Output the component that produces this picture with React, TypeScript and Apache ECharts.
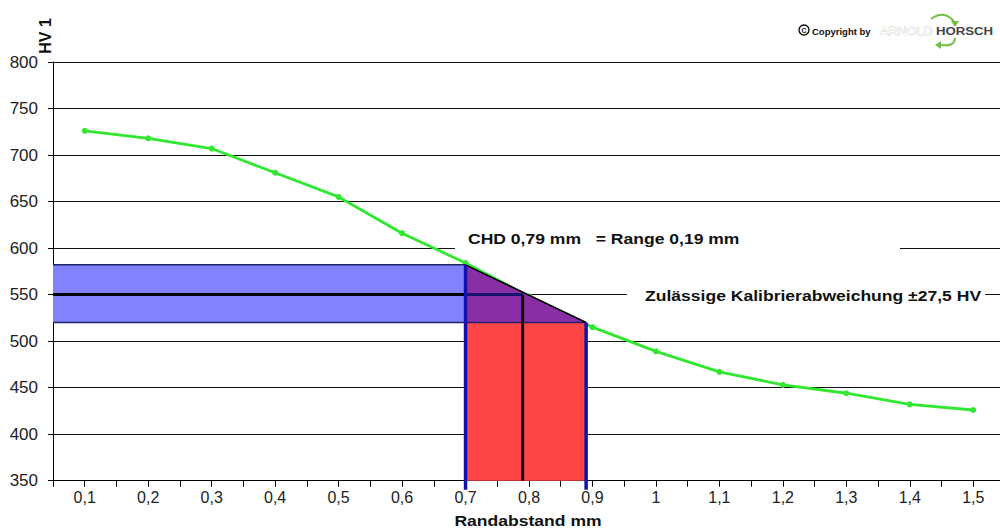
import React, { useEffect, useRef } from "react";
import * as echarts from "echarts";

// Measured curve: hardness HV 1 against distance from edge (mm)
const distances = [0.1, 0.2, 0.3, 0.4, 0.5, 0.6, 0.7, 0.8, 0.9, 1.0, 1.1, 1.2, 1.3, 1.4, 1.5];
const hardness = [726, 718, 707, 681, 655, 616, 584, 548, 515, 489, 467, 453, 444, 432, 426];

// Axis ranges
const xRange = [0.05, 1.55];
const yRange = [350, 800];
const yTickStep = 50;
const xTickStep = 0.05;

// Evaluation overlay
const chdValue = [0.79];            // CHD position (mm)
const rangeBounds = [0.7, 0.89];    // range limits (mm)
const targetHV = [550];             // limit hardness
const bandBounds = [520, 582];      // tolerance band lower / upper (HV)

const texts = {
  yTitle: "HV 1",
  xTitle: "Randabstand mm",
  chd: "CHD 0,79 mm   = Range 0,19 mm",
  tol: "Zulässige Kalibrierabweichung ±27,5 HV",
};

const FONT = "'Liberation Sans', Arial, sans-serif";
const STRETCH = 1.17;

export default function App() {
  const ref = useRef<HTMLDivElement>(null);

  useEffect(() => {
    if (!ref.current) return;
    const chart = echarts.init(ref.current, null, { renderer: "svg" });

    const fmtX = (v: number) => {
      const k = Math.round(v * 100);
      if (k % 10 !== 0) return "";
      if (k % 100 === 0) return String(k / 100);
      return (k / 100).toFixed(1).replace(".", ",");
    };

    const renderOverlay = (params: any, api: any) => {
      const x0 = xRange[0];
      const [r1, r2] = rangeBounds;
      const chd = chdValue[0];
      const t = targetHV[0];
      const [bLow, bHigh] = bandBounds;
      const c = (x: number, y: number) => api.coord([x, y]);
      const pAxisL = c(x0, bHigh);
      const pR1Top = c(r1, bHigh);
      const pR1Low = c(r1, bLow);
      const pR2Low = c(r2, bLow);
      const pAxisLow = c(x0, bLow);
      const pR1Base = c(r1, yRange[0]);
      const pR2Base = c(r2, yRange[0]);
      const pT0 = c(x0, t);
      const pTR1 = c(r1, t);
      const pTChd = c(chd, t);
      const pChdBase = c(chd, yRange[0]);
      const ext = 9;
      return {
        type: "group",
        children: [
          {
            type: "rect",
            shape: { x: pAxisL[0], y: pAxisL[1], width: pR1Top[0] - pAxisL[0], height: pAxisLow[1] - pAxisL[1] },
            style: { fill: "#8282fc" },
          },
          {
            type: "rect",
            shape: { x: pR1Low[0], y: pR1Low[1], width: pR2Low[0] - pR1Low[0], height: pR1Base[1] - pR1Low[1] },
            style: { fill: "#ff4646" },
          },
          {
            type: "polygon",
            shape: { points: [pR1Top, pR1Low, pR2Low] },
            style: { fill: "#8a2ea6" },
          },
          {
            type: "line",
            shape: { x1: pAxisL[0], y1: pAxisL[1], x2: pR1Top[0], y2: pR1Top[1] },
            style: { stroke: "#22226a", lineWidth: 1.5 },
          },
          {
            type: "line",
            shape: { x1: pAxisLow[0], y1: pAxisLow[1], x2: pR2Low[0], y2: pR2Low[1] },
            style: { stroke: "#22226a", lineWidth: 1.5 },
          },
          {
            type: "line",
            shape: { x1: pT0[0], y1: pT0[1], x2: pTR1[0], y2: pTR1[1] },
            style: { stroke: "#000", lineWidth: 3 },
          },
          {
            type: "line",
            shape: { x1: pTR1[0], y1: pTR1[1], x2: pTChd[0], y2: pTChd[1] },
            style: { stroke: "#14146e", lineWidth: 3 },
          },
          {
            type: "line",
            shape: { x1: pTChd[0], y1: pTChd[1], x2: pChdBase[0], y2: pChdBase[1] },
            style: { stroke: "#140808", lineWidth: 3 },
          },
          {
            type: "line",
            shape: { x1: pR1Top[0], y1: pR1Top[1], x2: pR2Low[0], y2: pR2Low[1] },
            style: { stroke: "#000", lineWidth: 1.5 },
          },
          {
            type: "line",
            shape: { x1: pR1Top[0], y1: pR1Top[1], x2: pR1Base[0], y2: pR1Base[1] + ext },
            style: { stroke: "#1212aa", lineWidth: 3.5 },
          },
          {
            type: "line",
            shape: { x1: pR2Low[0], y1: pR2Low[1], x2: pR2Base[0], y2: pR2Base[1] + ext },
            style: { stroke: "#1212aa", lineWidth: 3.5 },
          },
        ],
      };
    };

    const green = "#30e830";
    const arrowGreen = "#72c043";

    chart.setOption({
      animation: false,
      backgroundColor: "#ffffff",
      textStyle: { fontFamily: FONT },
      grid: { left: 53, top: 62, width: 952, height: 418.7, containLabel: false, outerBoundsMode: "none" },
      xAxis: {
        type: "value",
        min: xRange[0],
        max: xRange[1],
        interval: xTickStep,
        axisLine: { show: true, lineStyle: { color: "#000", width: 1 } },
        axisTick: { show: true, length: 6, lineStyle: { color: "#000", width: 1 } },
        axisLabel: { formatter: fmtX, fontSize: 16, color: "#222", margin: 9, fontFamily: FONT, showMinLabel: true, showMaxLabel: true },
        splitLine: { show: false },
      },
      yAxis: {
        type: "value",
        min: yRange[0],
        max: yRange[1],
        interval: yTickStep,
        axisLine: { show: true, lineStyle: { color: "#000", width: 1 } },
        axisTick: { show: true, length: 5, lineStyle: { color: "#000", width: 1 } },
        axisLabel: { fontSize: 17, color: "#222", margin: 15, fontFamily: FONT },
        splitLine: { show: true, lineStyle: { color: "#111", width: 1 } },
      },
      series: [
        {
          type: "line",
          data: distances.map((d, i) => [d, hardness[i]]),
          symbol: "circle",
          symbolSize: 6,
          itemStyle: { color: green },
          lineStyle: { color: green, width: 2.8 },
          z: 2,
          silent: true,
        },
        {
          type: "custom",
          data: [[rangeBounds[0], bandBounds[0]]],
          renderItem: renderOverlay,
          clip: false,
          z: 3,
          silent: true,
        },
      ],
      graphic: [
        {
          type: "text",
          x: 45,
          y: 36,
          rotation: Math.PI / 2,
          style: { text: texts.yTitle, font: `bold 16px ${FONT}`, fill: "#111", align: "center", verticalAlign: "middle" },
        },
        {
          type: "text",
          x: 528,
          y: 520,
          scaleX: STRETCH,
          style: { text: texts.xTitle, font: `bold 15px ${FONT}`, fill: "#111", align: "center", verticalAlign: "middle" },
        },
        {
          type: "rect",
          shape: { x: 455, y: 228, width: 445, height: 24 },
          style: { fill: "#fff" },
          z: 10,
        },
        {
          type: "text",
          x: 468,
          y: 238,
          scaleX: STRETCH,
          style: { text: texts.chd, font: `bold 15px ${FONT}`, fill: "#111", verticalAlign: "middle" },
          z: 11,
        },
        {
          type: "rect",
          shape: { x: 627, y: 284, width: 358, height: 22 },
          style: { fill: "#fff" },
          z: 10,
        },
        {
          type: "text",
          x: 645,
          y: 295,
          scaleX: STRETCH,
          style: { text: texts.tol, font: `bold 15px ${FONT}`, fill: "#111", verticalAlign: "middle" },
          z: 11,
        },
        // copyright logo
        {
          type: "circle",
          shape: { cx: 804, cy: 30, r: 5 },
          style: { fill: "none", stroke: "#111", lineWidth: 1.4 },
        },
        {
          type: "text",
          x: 804,
          y: 30.5,
          style: { text: "C", font: `bold 7px ${FONT}`, fill: "#111", align: "center", verticalAlign: "middle" },
        },
        {
          type: "text",
          x: 812,
          y: 31,
          style: { text: "Copyright by", font: `bold 9.5px ${FONT}`, fill: "#111", verticalAlign: "middle" },
        },
        {
          type: "text",
          x: 880,
          y: 31,
          scaleX: 1.15,
          style: { text: "ARNOLD", font: `11px ${FONT}`, fill: "#ffffff", stroke: "#b4b4b4", lineWidth: 0.5, verticalAlign: "middle" },
        },
        {
          type: "text",
          x: 936,
          y: 31,
          scaleX: 1.2,
          style: { text: "HORSCH", font: `bold 11px ${FONT}`, fill: "#444", verticalAlign: "middle" },
        },
        {
          type: "bezierCurve",
          shape: { x1: 931, y1: 19, x2: 955, y2: 23, cpx1: 945, cpy1: 9 },
          style: { stroke: arrowGreen, lineWidth: 2, fill: "none" },
        },
        {
          type: "polygon",
          shape: { points: [[951, 21], [959, 21], [955, 27]] },
          style: { fill: arrowGreen },
        },
        {
          type: "bezierCurve",
          shape: { x1: 955, y1: 38, x2: 940, y2: 45, cpx1: 955, cpy1: 47 },
          style: { stroke: arrowGreen, lineWidth: 2, fill: "none" },
        },
        {
          type: "polygon",
          shape: { points: [[941, 41], [941, 49], [935, 45]] },
          style: { fill: arrowGreen },
        },
      ],
    });

    return () => chart.dispose();
  }, []);

  return (
    <div
      ref={ref}
      style={{ position: "absolute", left: 0, top: 0, width: 1000, height: 530, background: "#fff" }}
    />
  );
}
